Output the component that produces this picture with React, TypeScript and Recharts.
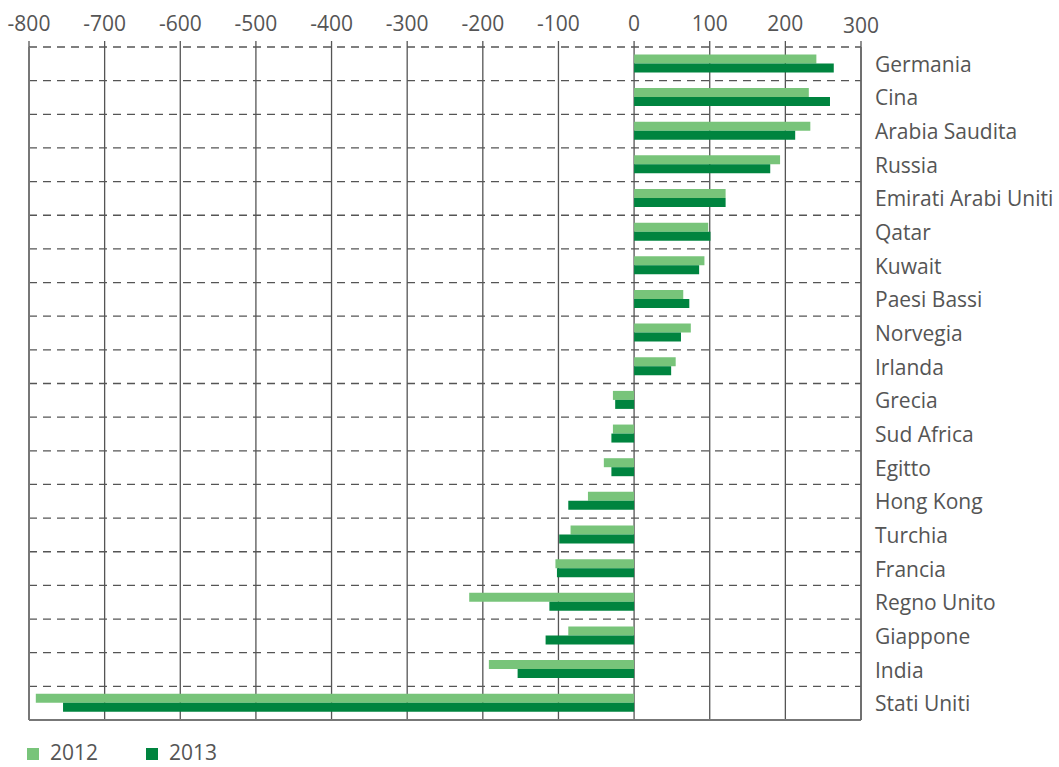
import React from 'react';
import { BarChart, Bar, XAxis, YAxis, CartesianGrid, ReferenceLine } from 'recharts';

const categories = ['Germania', 'Cina', 'Arabia Saudita', 'Russia', 'Emirati Arabi Uniti', 'Qatar', 'Kuwait', 'Paesi Bassi', 'Norvegia', 'Irlanda', 'Grecia', 'Sud Africa', 'Egitto', 'Hong Kong', 'Turchia', 'Francia', 'Regno Unito', 'Giappone', 'India', 'Stati Uniti'];
const values2012 = [241, 231, 233, 193, 121, 98, 93, 65, 75, 55, -28, -28, -40, -61, -84, -104, -218, -87, -192, -791];
const values2013 = [264, 259, 213, 180, 121, 101, 86, 73, 62, 49, -25, -30, -30, -87, -99, -102, -112, -117, -154, -755];
const xTicks = [-800, -700, -600, -500, -400, -300, -200, -100, 0, 100, 200, 300];
const seriesNames = ['2012', '2013'];
const seriesColors = ['#78c47a', '#00843f'];

const data = categories.map((name, i) => ({ name, v2012: values2012[i], v2013: values2013[i] }));

const FONT = "'Open Sans', sans-serif";
const TEXT = '#555555';

const XTick = (props: any) => {
  const { x, y, payload } = props;
  const last = payload.value === 300;
  return (
    <text x={x} y={y} dy={last ? -6 : -8} textAnchor="middle" fill={TEXT} fontSize={21} fontFamily={FONT}>
      {payload.value}
    </text>
  );
};

const YTick = (props: any) => {
  const { x, y, payload } = props;
  return (
    <text x={x} y={y} dy={8} textAnchor="start" fill={TEXT} fontSize={21} fontFamily={FONT}>
      {payload.value}
    </text>
  );
};

export default function App() {
  return (
    <div style={{ position: 'absolute', left: 0, top: 0, width: 1059, height: 767, overflow: 'hidden', background: '#fff' }}>
      <BarChart
        width={1059}
        height={767}
        data={data}
        layout="vertical"
        margin={{ top: 10, right: 0, bottom: 47, left: 29 }}
        barGap={0}
        barCategoryGap="22%"
      >
        <CartesianGrid horizontal={false} stroke="#555" strokeWidth={1.3} />
        <CartesianGrid
          vertical={false}
          stroke="#555"
          strokeWidth={1.3}
          strokeDasharray="8 6"
          horizontalCoordinatesGenerator={({ offset }: any) =>
            categories.map((_, i) => offset.top + (i * offset.height) / categories.length)
          }
        />
        <CartesianGrid
          vertical={false}
          stroke="#777"
          strokeWidth={2}
          horizontalCoordinatesGenerator={({ offset }: any) => [offset.top + offset.height]}
        />
        <XAxis
          type="number"
          orientation="top"
          domain={[-800, 300]}
          ticks={xTicks}
          height={37}
          axisLine={false}
          tickLine={{ stroke: '#555', strokeWidth: 1.3 }}
          tickSize={6}
          tickMargin={2}
          tick={<XTick />}
          interval={0}
        />
        <YAxis
          type="category"
          dataKey="name"
          orientation="right"
          width={198}
          axisLine={{ stroke: '#666', strokeWidth: 1.5 }}
          tickLine={false}
          tickSize={0}
          tickMargin={14}
          tick={<YTick />}
          interval={0}
        />
        <ReferenceLine x={-800} stroke="#777" strokeWidth={2} />
        <Bar dataKey="v2012" name={seriesNames[0]} fill={seriesColors[0]} isAnimationActive={false} />
        <Bar dataKey="v2013" name={seriesNames[1]} fill={seriesColors[1]} isAnimationActive={false} />
      </BarChart>
      <div style={{ position: 'absolute', left: 27, top: 739, display: 'flex', fontFamily: FONT, fontSize: 21, color: TEXT, lineHeight: '26px' }}>
        {seriesNames.map((n, i) => (
          <div key={n} style={{ display: 'flex', alignItems: 'center', width: 119 }}>
            <span style={{ display: 'inline-block', width: 12, height: 12, background: seriesColors[i], marginRight: 11, marginTop: 4 }} />
            <span>{n}</span>
          </div>
        ))}
      </div>
    </div>
  );
}
